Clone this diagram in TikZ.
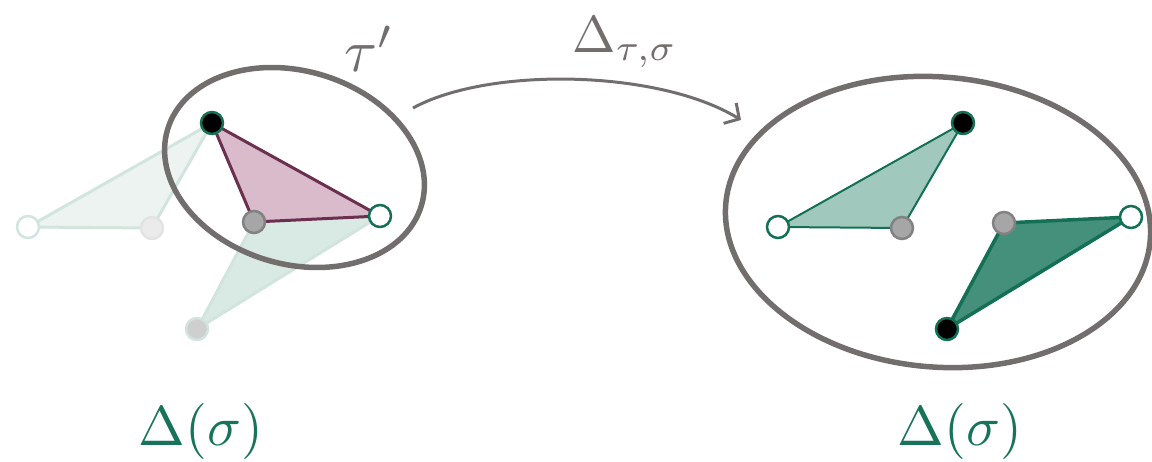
\documentclass[tikz,border=0pt]{standalone}
\usetikzlibrary{shapes.geometric,arrows.meta}
\definecolor{ringgray}{RGB}{115,110,110}
\definecolor{txtgreen}{RGB}{23,115,90}
\definecolor{purfill}{RGB}{217,187,203}
\definecolor{purline}{RGB}{107,48,80}
\definecolor{dgreen}{RGB}{20,112,85}
\definecolor{lgfill}{RGB}{160,200,188}
\definecolor{mgfill}{RGB}{68,144,122}
\definecolor{vgray}{RGB}{166,166,166}
\definecolor{vgrayline}{RGB}{130,130,130}
\definecolor{fadefillA}{RGB}{236,243,240}
\definecolor{fadefillB}{RGB}{217,233,228}
\definecolor{fadeline}{RGB}{210,229,221}
\begin{document}
\begin{tikzpicture}[x=1pt,y=-1pt,
  vtx/.style={circle,inner sep=0pt,minimum size=22pt,line width=2.5pt},
  vblack/.style={vtx,fill=black,draw=dgreen},
  vwhite/.style={vtx,fill=white,draw=dgreen},
  vgrey/.style={vtx,fill=vgray,draw=vgrayline},
  fwhite/.style={vtx,fill=white,draw=fadeline},
  fgreyA/.style={vtx,fill=black!8,draw=black!11},
  fgreyB/.style={vtx,fill=black!19,draw=fadeline},
  ring/.style={ellipse,draw=ringgray,line width=5.5pt,inner sep=0pt},
  lbl/.style={inner sep=0pt}]
\useasboundingbox (0,0) rectangle (1152,462);
% faded triangles (left)
\coordinate (fw) at (28,227);
\coordinate (fg) at (152,228);
\coordinate (fb) at (197,329);
\coordinate (lb) at (212,123);
\coordinate (lw) at (380,216);
\coordinate (lg) at (254,222);
\fill[fadefillA,draw=fadeline,line width=3pt,line join=round] (fw) -- (lb) -- (fg) -- cycle;
\fill[fadefillB,draw=fadeline,line width=3pt,line join=round] (lg) -- (lw) -- (fb) -- cycle;
\filldraw[fill=purfill,draw=purline,line width=3pt,line join=round] (lb) -- (lw) -- (lg) -- cycle;
% left ring
\node[ring,minimum width=265pt,minimum height=193pt,rotate=-16.7] (E1) at (294.5,167.5) {};
% left vertices
\node[fwhite] (FW) at (fw) {};
\node[fgreyA] (FG) at (fg) {};
\node[fgreyB] (FB) at (fb) {};
\node[vblack] (LB) at (lb) {};
\node[vwhite] (LW) at (lw) {};
\node[vgrey] (LG) at (lg) {};
% right triangles
\coordinate (rw1) at (778,227);
\coordinate (rb1) at (963,123);
\coordinate (rg1) at (902,228);
\coordinate (rg2) at (1004,223);
\coordinate (rw2) at (1131,217);
\coordinate (rb2) at (947,329);
\filldraw[fill=lgfill,draw=dgreen,line width=2pt,line join=round] (rw1) -- (rb1) -- (rg1) -- cycle;
\filldraw[fill=mgfill,draw=dgreen,line width=3.5pt,line join=round] (rg2) -- (rw2) -- (rb2) -- cycle;
\node[ring,minimum width=426pt,minimum height=290pt,rotate=-5] (E2) at (938,222) {};
\node[vwhite] (RW1) at (rw1) {};
\node[vblack] (RB1) at (rb1) {};
\node[vgrey] (RG1) at (rg1) {};
\node[vgrey] (RG2) at (rg2) {};
\node[vwhite] (RW2) at (rw2) {};
\node[vblack] (RB2) at (rb2) {};
% arrow
\coordinate (a1) at (413,108);
\coordinate (a2) at (741,120);
\draw[ringgray,line width=3pt,-{Straight Barb[length=11pt,width=24pt,line width=3pt]}]
  (a1) .. controls (490,66) and (660,70) .. (a2);
% labels
\node[lbl,text=ringgray,scale=6] (T) at (369,49) {$\tau'$};
\node[lbl,text=ringgray,scale=5.2] (D) at (625,42) {$\Delta_{\tau,\sigma}$};
\node[lbl,text=txtgreen,scale=5.6] (L1) at (201,431) {$\Delta(\sigma)$};
\node[lbl,text=txtgreen,scale=5.6] (L2) at (960,431) {$\Delta(\sigma)$};
\end{tikzpicture}
\end{document}
